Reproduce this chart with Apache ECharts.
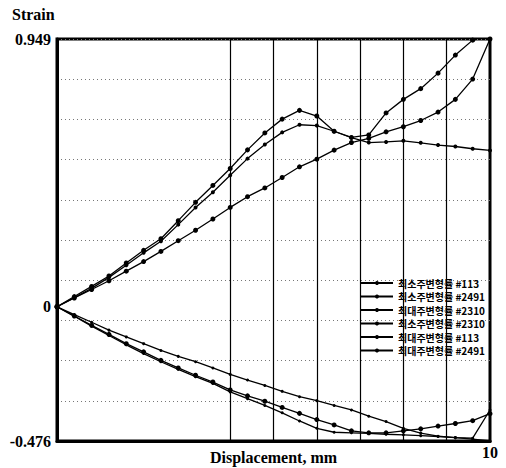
<!DOCTYPE html>
<html><head><meta charset="utf-8">
<script src="https://cdn.jsdelivr.net/npm/echarts@6/dist/echarts.min.js"></script>
<style>html,body{margin:0;padding:0;background:#fff}#c{width:506px;height:468px}</style>
</head><body><div id="c"></div>
<script>
// Displacement (mm) sample positions
const displacement = [0, 0.4, 0.8, 1.2, 1.6, 2.0, 2.4, 2.8, 3.2, 3.6, 4.0, 4.4, 4.8, 5.2, 5.6, 6.0, 6.4, 6.8, 7.2, 7.6, 8.0, 8.4, 8.8, 9.2, 9.6, 10.0];

// Max principal strain (positive)
const maxStrain113  = [0, 0.036, 0.072, 0.109, 0.155, 0.200, 0.241, 0.305, 0.370, 0.430, 0.490, 0.556, 0.616, 0.665, 0.696, 0.676, 0.622, 0.600, 0.609, 0.687, 0.735, 0.773, 0.828, 0.892, 0.945];
const maxStrain2491 = [0, 0.032, 0.065, 0.104, 0.147, 0.191, 0.232, 0.291, 0.352, 0.406, 0.466, 0.525, 0.575, 0.618, 0.645, 0.642, 0.622, 0.599, 0.582, 0.584, 0.588, 0.581, 0.573, 0.568, 0.560, 0.554];
const maxStrain2310 = [0, 0.031, 0.061, 0.092, 0.126, 0.160, 0.196, 0.234, 0.271, 0.311, 0.352, 0.390, 0.421, 0.458, 0.496, 0.523, 0.555, 0.582, 0.597, 0.620, 0.638, 0.660, 0.690, 0.735, 0.807, 0.949];

// Min principal strain (negative)
const minStrain113  = [0, -0.028, -0.055, -0.083, -0.107, -0.131, -0.155, -0.176, -0.195, -0.217, -0.240, -0.260, -0.279, -0.300, -0.319, -0.333, -0.350, -0.366, -0.388, -0.407, -0.431, -0.448, -0.459, -0.464, -0.466, -0.366];
const minStrain2491 = [0, -0.033, -0.066, -0.098, -0.131, -0.160, -0.190, -0.217, -0.243, -0.267, -0.295, -0.316, -0.335, -0.357, -0.378, -0.400, -0.419, -0.440, -0.447, -0.447, -0.440, -0.433, -0.423, -0.414, -0.404, -0.379];
const minStrain2310 = [0, -0.034, -0.069, -0.102, -0.135, -0.166, -0.195, -0.222, -0.248, -0.272, -0.302, -0.326, -0.350, -0.376, -0.405, -0.431, -0.445, -0.447, -0.449, -0.452, -0.454, -0.457, -0.460, -0.464, -0.469, -0.476];

const legendNames = ['최소주변형률 #113', '최소주변형률 #2491', '최대주변형률 #2310', '최소주변형률 #2310', '최대주변형률 #113', '최대주변형률 #2491'];

const yMin = -0.476, yMax = 0.949;
const yTickValues = [-0.476, 0, 0.949];
const yTickLabels = ['-0.476', '0', '0.949'];
const xTickValues = [10];
const xTickLabels = ['10'];
const gridX = [4, 5, 6, 7, 8, 9];

const serif = "'Liberation Serif','Times New Roman',serif";
const chart = echarts.init(document.getElementById('c'), null, {renderer: 'svg'});

function pairs(vals) { return vals.map((v, i) => [displacement[i], v]); }

const defs = [
  {name: legendNames[0], data: minStrain113, size: 3},
  {name: legendNames[1], data: minStrain2491, size: 5},
  {name: legendNames[2], data: maxStrain2310, size: 5},
  {name: legendNames[3], data: minStrain2310, size: 3},
  {name: legendNames[4], data: maxStrain113, size: 5},
  {name: legendNames[5], data: maxStrain2491, size: 4}
];

const series = defs.map((d, i) => {
  const s = {
    name: d.name, type: 'line', data: pairs(d.data),
    symbol: 'circle', symbolSize: d.size, showSymbol: true,
    lineStyle: {color: '#000', width: 1.3},
    itemStyle: {color: '#000'},
    z: 5
  };
  if (i === 0) {
    s.markLine = {
      silent: true, symbol: 'none', label: {show: false},
      lineStyle: {color: '#000', width: 1.2, type: 'solid'},
      data: gridX.map(x => ({xAxis: x}))
    };
  }
  return s;
});

chart.setOption({
  animation: false,
  backgroundColor: '#fff',
  title: {text: 'Strain', left: 12, top: 6, padding: 0,
    textStyle: {fontFamily: serif, fontWeight: 'bold', fontSize: 16, color: '#000'}},
  grid: {left: 57, right: 16, top: 39, bottom: 27, show: true, borderColor: '#000', borderWidth: 3,
    outerBoundsMode: 'none', containLabel: false},
  legend: {
    orient: 'vertical', left: 360, top: 277, padding: 0,
    itemWidth: 32, itemHeight: 5, itemGap: 1.5,
    textStyle: {fontFamily: "'Noto Sans CJK KR'", fontSize: 10, fontWeight: 'bold', color: '#000', lineHeight: 12},
    data: legendNames
  },
  xAxis: {
    type: 'value', min: 0, max: 10, interval: 1,
    name: 'Displacement, mm', nameLocation: 'middle', nameGap: 8, nameMoveOverlap: false,
    nameTextStyle: {fontFamily: serif, fontWeight: 'bold', fontSize: 16, color: '#000', verticalAlign: 'top'},
    axisLine: {onZero: false, lineStyle: {color: '#000', width: 3}},
    axisTick: {show: false},
    splitLine: {show: false},
    axisLabel: {customValues: xTickValues, margin: 3, fontFamily: serif, fontWeight: 'bold', fontSize: 16, color: '#000',
      formatter: v => xTickLabels[xTickValues.indexOf(v)] || ''}
  },
  yAxis: [
    {
      type: 'value', min: yMin, max: yMax,
      axisLine: {show: true, onZero: false, lineStyle: {color: '#000', width: 3}},
      axisTick: {show: false},
      splitLine: {show: false},
      axisLabel: {customValues: yTickValues, margin: 6, fontFamily: serif, fontWeight: 'bold', fontSize: 16, color: '#000',
        formatter: v => { const i = yTickValues.indexOf(v); return i >= 0 ? yTickLabels[i] : ''; }}
    },
    {
      type: 'value', min: 0, max: 10, interval: 1, position: 'left',
      axisLine: {show: false}, axisTick: {show: false}, axisLabel: {show: false},
      splitLine: {show: true, lineStyle: {color: '#777', type: [1, 3], width: 1}}
    }
  ],
  series: series
});
</script>
</body></html>
